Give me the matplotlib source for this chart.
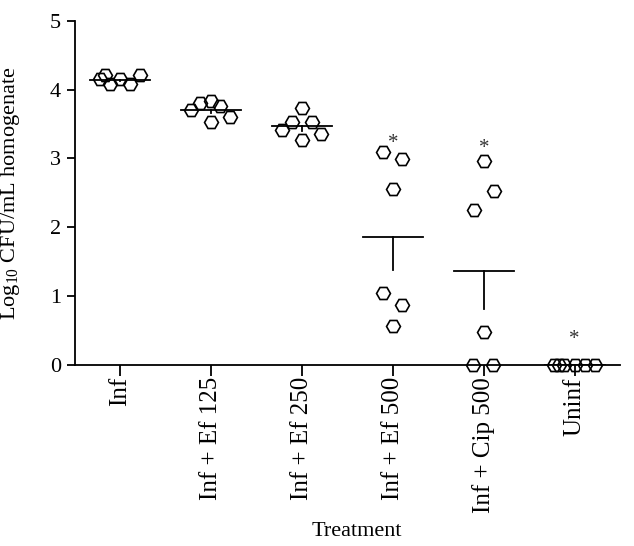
import matplotlib.pyplot as plt
import numpy as np

plt.rcParams['font.family'] = ['Liberation Serif', 'DejaVu Serif']
plt.rcParams['mathtext.fontset'] = 'custom'
plt.rcParams['mathtext.rm'] = 'Liberation Serif'

groups = ["Inf", "Inf + Ef 125", "Inf + Ef 250", "Inf + Ef 500", "Inf + Cip 500", "Uninf"]

# log10 CFU values (6 animals per group)
inf = [4.15, 4.21, 4.08, 4.15, 4.08, 4.22]
ef125 = [3.70, 3.80, 3.84, 3.76, 3.61, 3.53]
ef250 = [3.41, 3.53, 3.73, 3.53, 3.36, 3.27]
ef500 = [3.09, 2.99, 2.56, 1.05, 0.87, 0.56]
cip500 = [2.97, 2.53, 2.25, 0.47, 0.0, 0.0]
uninf = [0.0, 0.0, 0.0, 0.0, 0.0, 0.0]
data = [inf, ef125, ef250, ef500, cip500, uninf]

# significance markers
star_y = [None, None, None, 3.22, 3.15, 0.36]

# horizontal scatter of the points inside each group
spread = [
    [-0.23, -0.17, -0.12, 0.0, 0.11, 0.22],
    [-0.22, -0.12, 0.0, 0.10, 0.21, 0.0],
    [-0.22, -0.11, 0.0, 0.11, 0.21, 0.0],
    [-0.11, 0.10, 0.0, -0.11, 0.10, 0.0],
    [0.0, 0.11, -0.11, 0.0, -0.12, 0.10],
    [-0.23, -0.17, -0.12, 0.0, 0.11, 0.22],
]

fig = plt.figure(figsize=(6.34, 5.46), dpi=100)
ax = fig.add_axes([75/634, 1-364.7/546, 545/634, 343.7/546])

for i, vals in enumerate(data):
    x0 = i + 1
    vals = np.array(vals)
    xs = x0 + np.array(spread[i])
    ax.plot(xs, vals, linestyle='none', marker='H', markersize=10,
            markerfacecolor='none', markeredgecolor='black',
            markeredgewidth=1.2, clip_on=False, zorder=3)
    m = vals.mean()
    sem = vals.std(ddof=1) / np.sqrt(len(vals))
    ax.plot([x0 - 0.33, x0 + 0.33], [m, m], color='black', lw=1.3, zorder=2)
    ax.plot([x0, x0], [m, m - sem], color='black', lw=1.3, zorder=2)
    if star_y[i] is not None:
        ax.text(x0, star_y[i], "*", ha='center', va='center', fontsize=15,
                color='#333333')

ax.set_xlim(0.5, 6.5)
ax.set_ylim(0, 5)
ax.set_xticks(range(1, 7))
ax.set_xticklabels(groups, rotation=90, fontsize=18)
ax.set_yticks(range(0, 6))
ax.tick_params(axis='y', labelsize=16, length=6, width=1.3, pad=4)
ax.tick_params(axis='x', length=8, width=1.3, pad=1)
ax.spines['top'].set_visible(False)
ax.spines['right'].set_visible(False)
ax.spines['left'].set_linewidth(1.3)
ax.spines['bottom'].set_linewidth(1.3)

ax.set_ylabel(r"Log$_{10}$ CFU/mL homogenate", fontsize=16)
ax.yaxis.set_label_coords(-0.097, 0.5)
ax.set_xlabel("Treatment", fontsize=16)
ax.xaxis.set_label_coords(0.517, -0.458)

fig.savefig("out.png", dpi=100)
